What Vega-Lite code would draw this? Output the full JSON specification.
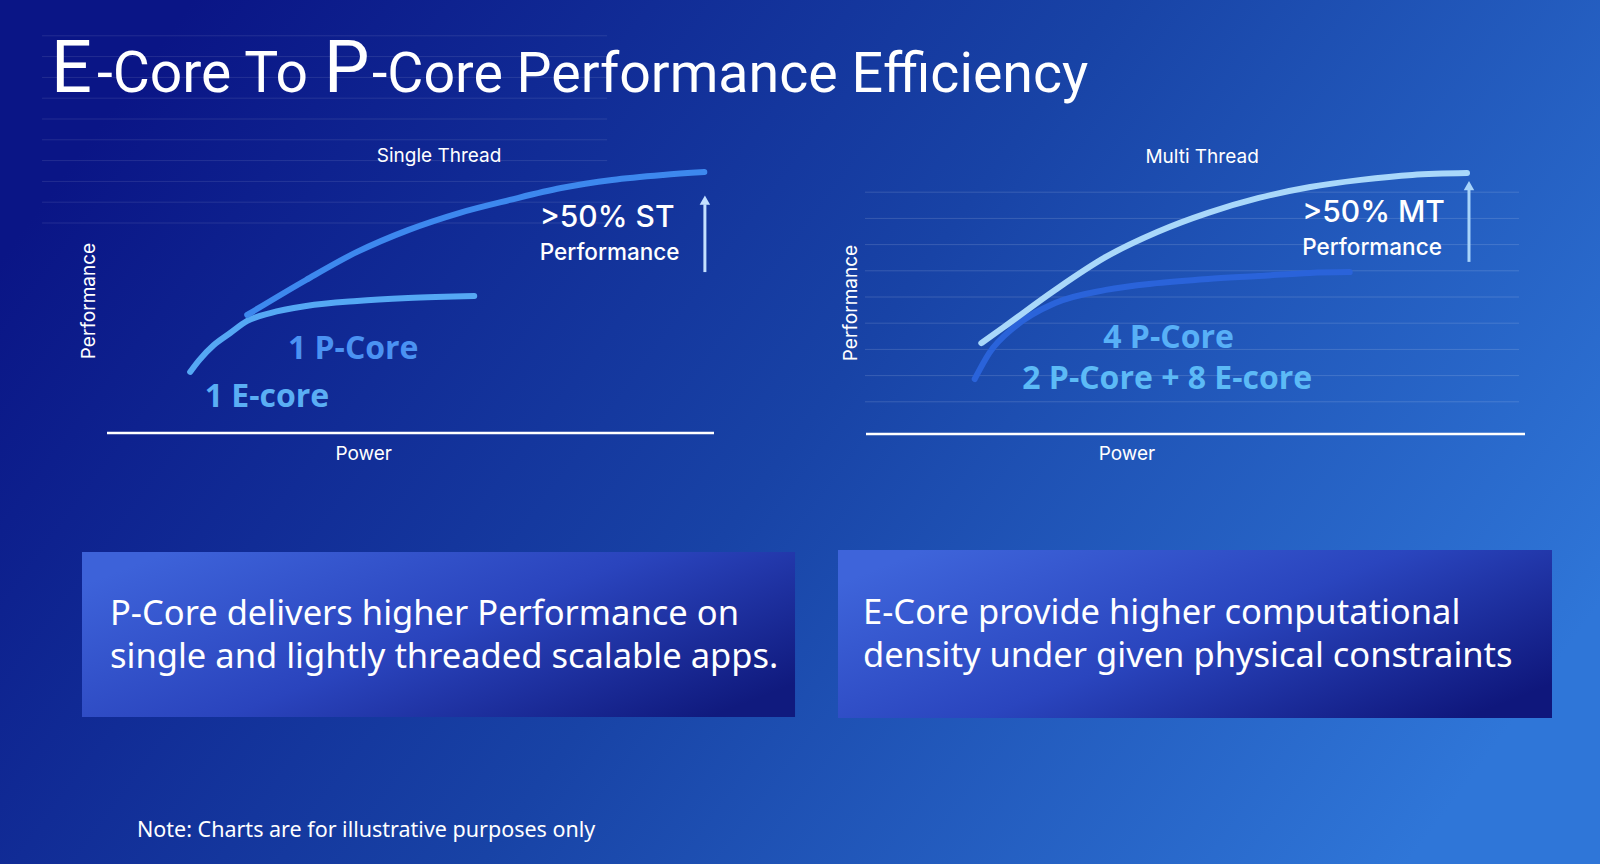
{
  "$schema": "https://vega.github.io/schema/vega-lite/v6.json",
  "width": 1600,
  "height": 864,
  "autosize": {"type": "fit", "contains": "padding"},
  "padding": 0,
  "background": "#163c9e",
  "config": {"view": {"stroke": null}, "font": "Inter"},
  "data": {"values": [{}]},
  "datasets": {
    "st_curves": [
      {"series": "1 E-core", "power": 13.7, "perf": 2.84},
      {"series": "1 E-core", "power": 15.2, "perf": 3.41},
      {"series": "1 E-core", "power": 17.6, "perf": 4.13},
      {"series": "1 E-core", "power": 20.3, "perf": 4.71},
      {"series": "1 E-core", "power": 23.1, "perf": 5.29},
      {"series": "1 E-core", "power": 26.9, "perf": 5.67},
      {"series": "1 E-core", "power": 32.8, "perf": 6.01},
      {"series": "1 E-core", "power": 41.2, "perf": 6.25},
      {"series": "1 E-core", "power": 49.6, "perf": 6.39},
      {"series": "1 E-core", "power": 60.5, "perf": 6.49},
      {"series": "1 P-Core", "power": 23.1, "perf": 5.58},
      {"series": "1 P-Core", "power": 32.8, "perf": 7.26},
      {"series": "1 P-Core", "power": 41.2, "perf": 8.61},
      {"series": "1 P-Core", "power": 49.6, "perf": 9.66},
      {"series": "1 P-Core", "power": 58.0, "perf": 10.48},
      {"series": "1 P-Core", "power": 66.4, "perf": 11.11},
      {"series": "1 P-Core", "power": 74.8, "perf": 11.68},
      {"series": "1 P-Core", "power": 83.2, "perf": 12.07},
      {"series": "1 P-Core", "power": 91.6, "perf": 12.31},
      {"series": "1 P-Core", "power": 98.4, "perf": 12.45}
    ],
    "st_grid": [
      {"level": 10}, {"level": 11}, {"level": 12}, {"level": 13}, {"level": 14},
      {"level": 15}, {"level": 16}, {"level": 17}, {"level": 18}, {"level": 19}
    ],
    "mt_curves": [
      {"series": "2 P-Core + 8 E-core", "power": 16.5, "perf": 1.87},
      {"series": "2 P-Core + 8 E-core", "power": 18.7, "perf": 2.86},
      {"series": "2 P-Core + 8 E-core", "power": 22.5, "perf": 3.85},
      {"series": "2 P-Core + 8 E-core", "power": 28.7, "perf": 4.77},
      {"series": "2 P-Core + 8 E-core", "power": 36.4, "perf": 5.27},
      {"series": "2 P-Core + 8 E-core", "power": 44.2, "perf": 5.53},
      {"series": "2 P-Core + 8 E-core", "power": 51.9, "perf": 5.69},
      {"series": "2 P-Core + 8 E-core", "power": 59.6, "perf": 5.80},
      {"series": "2 P-Core + 8 E-core", "power": 67.4, "perf": 5.92},
      {"series": "2 P-Core + 8 E-core", "power": 73.4, "perf": 5.95},
      {"series": "4 P-Core", "power": 17.5, "perf": 3.24},
      {"series": "4 P-Core", "power": 20.9, "perf": 3.85},
      {"series": "4 P-Core", "power": 28.7, "perf": 5.27},
      {"series": "4 P-Core", "power": 36.4, "perf": 6.53},
      {"series": "4 P-Core", "power": 44.2, "perf": 7.48},
      {"series": "4 P-Core", "power": 51.9, "perf": 8.21},
      {"series": "4 P-Core", "power": 59.6, "perf": 8.78},
      {"series": "4 P-Core", "power": 67.4, "perf": 9.20},
      {"series": "4 P-Core", "power": 75.1, "perf": 9.47},
      {"series": "4 P-Core", "power": 82.9, "perf": 9.66},
      {"series": "4 P-Core", "power": 91.2, "perf": 9.73}
    ],
    "mt_grid": [
      {"level": 1}, {"level": 2}, {"level": 3}, {"level": 4}, {"level": 5},
      {"level": 6}, {"level": 7}, {"level": 8}, {"level": 9}
    ]
  },
  "layer": [
    {
      "layer": [
        {
          "mark": {"type": "rect", "fill": {"gradient": "linear", "x1": 0, "y1": 0.3, "x2": 1, "y2": 0.7, "stops": [{"offset": 0, "color": "#0a1586"}, {"offset": 0.5, "color": "#1843a6"}, {"offset": 1, "color": "#2f76d8"}]}},
          "encoding": {}
        },
        {
          "mark": {"type": "rect", "fill": {"gradient": "linear", "x1": 0, "y1": 0.2, "x2": 1, "y2": 0.8, "stops": [{"offset": 0, "color": "#3d62d9"}, {"offset": 0.5, "color": "#2a44bd"}, {"offset": 1, "color": "#101a7e"}]}},
          "encoding": {
            "x": {"datum": 5.125, "type": "quantitative", "scale": {"domain": [0, 100], "nice": false, "zero": false}, "axis": null},
            "x2": {"datum": 49.69},
            "y": {"datum": 63.89, "type": "quantitative", "scale": {"domain": [0, 100], "reverse": true, "nice": false, "zero": false}, "axis": null},
            "y2": {"datum": 82.99}
          }
        },
        {
          "mark": {"type": "rect", "fill": {"gradient": "linear", "x1": 0, "y1": 0.2, "x2": 1, "y2": 0.8, "stops": [{"offset": 0, "color": "#3e64da"}, {"offset": 0.5, "color": "#2a45be"}, {"offset": 1, "color": "#0f177c"}]}},
          "encoding": {
            "x": {"datum": 52.375, "type": "quantitative", "scale": {"domain": [0, 100], "nice": false, "zero": false}, "axis": null},
            "x2": {"datum": 97.0},
            "y": {"datum": 63.66, "type": "quantitative", "scale": {"domain": [0, 100], "reverse": true, "nice": false, "zero": false}, "axis": null},
            "y2": {"datum": 83.1}
          }
        },
        {
          "mark": {"type": "text", "text": "E", "font": "Roboto", "fontSize": 72, "fontWeight": 400, "align": "left", "baseline": "alphabetic", "fill": "#ffffff"},
          "encoding": {
            "x": {"datum": 3.19, "type": "quantitative", "scale": {"domain": [0, 100], "nice": false, "zero": false}, "axis": null},
            "y": {"datum": 10.7, "type": "quantitative", "scale": {"domain": [0, 100], "reverse": true, "nice": false, "zero": false}, "axis": null}
          }
        },
        {
          "mark": {"type": "text", "text": "-Core To", "font": "Roboto", "fontSize": 57, "fontWeight": 400, "align": "left", "baseline": "alphabetic", "fill": "#ffffff"},
          "encoding": {
            "x": {"datum": 6.06, "type": "quantitative", "scale": {"domain": [0, 100], "nice": false, "zero": false}, "axis": null},
            "y": {"datum": 10.7, "type": "quantitative", "scale": {"domain": [0, 100], "reverse": true, "nice": false, "zero": false}, "axis": null}
          }
        },
        {
          "mark": {"type": "text", "text": "P", "font": "Roboto", "fontSize": 72, "fontWeight": 400, "align": "left", "baseline": "alphabetic", "fill": "#ffffff"},
          "encoding": {
            "x": {"datum": 20.25, "type": "quantitative", "scale": {"domain": [0, 100], "nice": false, "zero": false}, "axis": null},
            "y": {"datum": 10.7, "type": "quantitative", "scale": {"domain": [0, 100], "reverse": true, "nice": false, "zero": false}, "axis": null}
          }
        },
        {
          "mark": {"type": "text", "text": "-Core Performance Efficiency", "font": "Roboto", "fontSize": 55.5, "fontWeight": 400, "align": "left", "baseline": "alphabetic", "fill": "#ffffff"},
          "encoding": {
            "x": {"datum": 23.25, "type": "quantitative", "scale": {"domain": [0, 100], "nice": false, "zero": false}, "axis": null},
            "y": {"datum": 10.7, "type": "quantitative", "scale": {"domain": [0, 100], "reverse": true, "nice": false, "zero": false}, "axis": null}
          }
        },
        {
          "mark": {"type": "text", "text": ["P-Core delivers higher Performance on", "single and lightly threaded scalable apps."], "lineHeight": 43, "font": "Noto Sans", "fontSize": 34.5, "align": "left", "baseline": "middle", "fill": "#ffffff"},
          "encoding": {
            "x": {"datum": 6.875, "type": "quantitative", "scale": {"domain": [0, 100], "nice": false, "zero": false}, "axis": null},
            "y": {"datum": 71.2, "type": "quantitative", "scale": {"domain": [0, 100], "reverse": true, "nice": false, "zero": false}, "axis": null}
          }
        },
        {
          "mark": {"type": "text", "text": ["E-Core provide higher computational", "density under given physical constraints"], "lineHeight": 43, "font": "Noto Sans", "fontSize": 34.5, "align": "left", "baseline": "middle", "fill": "#ffffff"},
          "encoding": {
            "x": {"datum": 53.94, "type": "quantitative", "scale": {"domain": [0, 100], "nice": false, "zero": false}, "axis": null},
            "y": {"datum": 71.05, "type": "quantitative", "scale": {"domain": [0, 100], "reverse": true, "nice": false, "zero": false}, "axis": null}
          }
        },
        {
          "mark": {"type": "text", "text": "Note: Charts are for illustrative purposes only", "font": "Noto Sans", "fontSize": 21.5, "align": "left", "baseline": "middle", "fill": "#ffffff"},
          "encoding": {
            "x": {"datum": 8.56, "type": "quantitative", "scale": {"domain": [0, 100], "nice": false, "zero": false}, "axis": null},
            "y": {"datum": 96.18, "type": "quantitative", "scale": {"domain": [0, 100], "reverse": true, "nice": false, "zero": false}, "axis": null}
          }
        }
      ]
    },
    {
      "layer": [
        {
          "data": {"name": "st_grid"},
          "mark": {"type": "rule", "stroke": "#ffffff", "strokeOpacity": 0.1, "strokeWidth": 1},
          "encoding": {
            "y": {"field": "level", "type": "quantitative", "scale": {"domain": [0, 12.5], "range": [431, 171], "nice": false, "zero": false}, "axis": null},
            "x": {"datum": -10.7, "type": "quantitative", "scale": {"domain": [0, 100], "range": [107, 714], "nice": false, "zero": false}, "axis": null},
            "x2": {"datum": 82.4}
          }
        },
        {
          "mark": {"type": "rule", "stroke": "#ffffff", "strokeWidth": 2.5},
          "encoding": {
            "x": {"datum": 0, "type": "quantitative", "scale": {"domain": [0, 100], "range": [107, 714], "nice": false, "zero": false}, "axis": null},
            "x2": {"datum": 100},
            "y": {"datum": -0.1, "type": "quantitative", "scale": {"domain": [0, 12.5], "range": [431, 171], "nice": false, "zero": false}, "axis": null}
          }
        },
        {
          "mark": {"type": "text", "text": "Power", "font": "Inter", "fontSize": 19, "align": "center", "baseline": "middle", "fill": "#ffffff"},
          "encoding": {
            "x": {"datum": 42.3, "type": "quantitative", "scale": {"domain": [0, 100], "range": [107, 714], "nice": false, "zero": false}, "axis": null},
            "y": {"datum": -1.1, "type": "quantitative", "scale": {"domain": [0, 12.5], "range": [431, 171], "nice": false, "zero": false}, "axis": null}
          }
        },
        {
          "mark": {"type": "text", "text": "Performance", "font": "Inter", "fontSize": 19, "angle": 270, "align": "center", "baseline": "middle", "fill": "#ffffff"},
          "encoding": {
            "x": {"datum": -2.97, "type": "quantitative", "scale": {"domain": [0, 100], "range": [107, 714], "nice": false, "zero": false}, "axis": null},
            "y": {"datum": 6.25, "type": "quantitative", "scale": {"domain": [0, 12.5], "range": [431, 171], "nice": false, "zero": false}, "axis": null}
          }
        },
        {
          "data": {"name": "st_curves"},
          "mark": {"type": "line", "strokeWidth": 6, "strokeCap": "round", "interpolate": "monotone"},
          "encoding": {
            "x": {"field": "power", "type": "quantitative", "title": "Power", "scale": {"domain": [0, 100], "range": [107, 714], "nice": false, "zero": false}, "axis": null},
            "y": {"field": "perf", "type": "quantitative", "title": "Performance", "scale": {"domain": [0, 12.5], "range": [431, 171], "nice": false, "zero": false}, "axis": null},
            "color": {"field": "series", "type": "nominal", "scale": {"domain": ["1 E-core", "1 P-Core"], "range": ["#55a8f4", "#3d88ee"]}, "legend": null}
          }
        },
        {
          "mark": {"type": "rule", "stroke": "#c4e0ff", "strokeWidth": 3},
          "encoding": {
            "x": {"datum": 98.5, "type": "quantitative", "scale": {"domain": [0, 100], "range": [107, 714], "nice": false, "zero": false}, "axis": null},
            "y": {"datum": 7.64, "type": "quantitative", "scale": {"domain": [0, 12.5], "range": [431, 171], "nice": false, "zero": false}, "axis": null},
            "y2": {"datum": 10.9}
          }
        },
        {
          "mark": {"type": "point", "shape": "triangle-up", "filled": true, "size": 110, "fill": "#c4e0ff", "opacity": 1},
          "encoding": {
            "x": {"datum": 98.5, "type": "quantitative", "scale": {"domain": [0, 100], "range": [107, 714], "nice": false, "zero": false}, "axis": null},
            "y": {"datum": 11.1, "type": "quantitative", "scale": {"domain": [0, 12.5], "range": [431, 171], "nice": false, "zero": false}, "axis": null}
          }
        },
        {
          "mark": {"type": "text", "text": "Single Thread", "font": "Inter", "fontSize": 19, "align": "center", "baseline": "middle", "fill": "#ffffff"},
          "encoding": {
            "x": {"datum": 54.7, "type": "quantitative", "scale": {"domain": [0, 100], "range": [107, 714], "nice": false, "zero": false}, "axis": null},
            "y": {"datum": 13.22, "type": "quantitative", "scale": {"domain": [0, 12.5], "range": [431, 171], "nice": false, "zero": false}, "axis": null}
          }
        },
        {
          "mark": {"type": "text", "text": ">50% ST", "font": "Inter", "fontSize": 30, "fontWeight": 500, "align": "left", "baseline": "middle", "fill": "#ffffff"},
          "encoding": {
            "x": {"datum": 71.3, "type": "quantitative", "scale": {"domain": [0, 100], "range": [107, 714], "nice": false, "zero": false}, "axis": null},
            "y": {"datum": 10.24, "type": "quantitative", "scale": {"domain": [0, 12.5], "range": [431, 171], "nice": false, "zero": false}, "axis": null}
          }
        },
        {
          "mark": {"type": "text", "text": "Performance", "font": "Inter", "fontSize": 22.5, "fontWeight": 500, "align": "left", "baseline": "middle", "fill": "#ffffff"},
          "encoding": {
            "x": {"datum": 71.3, "type": "quantitative", "scale": {"domain": [0, 100], "range": [107, 714], "nice": false, "zero": false}, "axis": null},
            "y": {"datum": 8.56, "type": "quantitative", "scale": {"domain": [0, 12.5], "range": [431, 171], "nice": false, "zero": false}, "axis": null}
          }
        },
        {
          "mark": {"type": "text", "text": "1 P-Core", "font": "Open Sans", "fontSize": 32, "fontWeight": "bold", "align": "left", "baseline": "middle", "fill": "#4b92f2"},
          "encoding": {
            "x": {"datum": 29.8, "type": "quantitative", "scale": {"domain": [0, 100], "range": [107, 714], "nice": false, "zero": false}, "axis": null},
            "y": {"datum": 3.94, "type": "quantitative", "scale": {"domain": [0, 12.5], "range": [431, 171], "nice": false, "zero": false}, "axis": null}
          }
        },
        {
          "mark": {"type": "text", "text": "1 E-core", "font": "Open Sans", "fontSize": 32, "fontWeight": "bold", "align": "left", "baseline": "middle", "fill": "#5aaef4"},
          "encoding": {
            "x": {"datum": 16.1, "type": "quantitative", "scale": {"domain": [0, 100], "range": [107, 714], "nice": false, "zero": false}, "axis": null},
            "y": {"datum": 1.63, "type": "quantitative", "scale": {"domain": [0, 12.5], "range": [431, 171], "nice": false, "zero": false}, "axis": null}
          }
        }
      ]
    },
    {
      "layer": [
        {
          "data": {"name": "mt_grid"},
          "mark": {"type": "rule", "stroke": "#ffffff", "strokeOpacity": 0.14, "strokeWidth": 1},
          "encoding": {
            "y": {"field": "level", "type": "quantitative", "scale": {"domain": [0, 10], "range": [428, 166], "nice": false, "zero": false}, "axis": null},
            "x": {"datum": -0.15, "type": "quantitative", "scale": {"domain": [0, 100], "range": [866, 1525], "nice": false, "zero": false}, "axis": null},
            "x2": {"datum": 99.1}
          }
        },
        {
          "mark": {"type": "rule", "stroke": "#ffffff", "strokeWidth": 2.5},
          "encoding": {
            "x": {"datum": 0, "type": "quantitative", "scale": {"domain": [0, 100], "range": [866, 1525], "nice": false, "zero": false}, "axis": null},
            "x2": {"datum": 100},
            "y": {"datum": -0.23, "type": "quantitative", "scale": {"domain": [0, 10], "range": [428, 166], "nice": false, "zero": false}, "axis": null}
          }
        },
        {
          "mark": {"type": "text", "text": "Power", "font": "Inter", "fontSize": 19, "align": "center", "baseline": "middle", "fill": "#ffffff"},
          "encoding": {
            "x": {"datum": 39.6, "type": "quantitative", "scale": {"domain": [0, 100], "range": [866, 1525], "nice": false, "zero": false}, "axis": null},
            "y": {"datum": -0.99, "type": "quantitative", "scale": {"domain": [0, 10], "range": [428, 166], "nice": false, "zero": false}, "axis": null}
          }
        },
        {
          "mark": {"type": "text", "text": "Performance", "font": "Inter", "fontSize": 19, "angle": 270, "align": "center", "baseline": "middle", "fill": "#ffffff"},
          "encoding": {
            "x": {"datum": -2.28, "type": "quantitative", "scale": {"domain": [0, 100], "range": [866, 1525], "nice": false, "zero": false}, "axis": null},
            "y": {"datum": 4.77, "type": "quantitative", "scale": {"domain": [0, 10], "range": [428, 166], "nice": false, "zero": false}, "axis": null}
          }
        },
        {
          "data": {"name": "mt_curves"},
          "mark": {"type": "line", "strokeWidth": 6, "strokeCap": "round", "interpolate": "monotone"},
          "encoding": {
            "x": {"field": "power", "type": "quantitative", "title": "Power", "scale": {"domain": [0, 100], "range": [866, 1525], "nice": false, "zero": false}, "axis": null},
            "y": {"field": "perf", "type": "quantitative", "title": "Performance", "scale": {"domain": [0, 10], "range": [428, 166], "nice": false, "zero": false}, "axis": null},
            "color": {"field": "series", "type": "nominal", "scale": {"domain": ["2 P-Core + 8 E-core", "4 P-Core"], "range": ["#2a63da", "#a9d8fa"]}, "legend": null}
          }
        },
        {
          "mark": {"type": "rule", "stroke": "#a8d4fa", "strokeWidth": 3},
          "encoding": {
            "x": {"datum": 91.5, "type": "quantitative", "scale": {"domain": [0, 100], "range": [866, 1525], "nice": false, "zero": false}, "axis": null},
            "y": {"datum": 6.34, "type": "quantitative", "scale": {"domain": [0, 10], "range": [428, 166], "nice": false, "zero": false}, "axis": null},
            "y2": {"datum": 9.1}
          }
        },
        {
          "mark": {"type": "point", "shape": "triangle-up", "filled": true, "size": 110, "fill": "#a8d4fa", "opacity": 1},
          "encoding": {
            "x": {"datum": 91.5, "type": "quantitative", "scale": {"domain": [0, 100], "range": [866, 1525], "nice": false, "zero": false}, "axis": null},
            "y": {"datum": 9.25, "type": "quantitative", "scale": {"domain": [0, 10], "range": [428, 166], "nice": false, "zero": false}, "axis": null}
          }
        },
        {
          "mark": {"type": "text", "text": "Multi Thread", "font": "Inter", "fontSize": 19, "align": "center", "baseline": "middle", "fill": "#ffffff"},
          "encoding": {
            "x": {"datum": 51.0, "type": "quantitative", "scale": {"domain": [0, 100], "range": [866, 1525], "nice": false, "zero": false}, "axis": null},
            "y": {"datum": 10.34, "type": "quantitative", "scale": {"domain": [0, 10], "range": [428, 166], "nice": false, "zero": false}, "axis": null}
          }
        },
        {
          "mark": {"type": "text", "text": ">50% MT", "font": "Inter", "fontSize": 30, "fontWeight": 500, "align": "left", "baseline": "middle", "fill": "#ffffff"},
          "encoding": {
            "x": {"datum": 66.2, "type": "quantitative", "scale": {"domain": [0, 100], "range": [866, 1525], "nice": false, "zero": false}, "axis": null},
            "y": {"datum": 8.21, "type": "quantitative", "scale": {"domain": [0, 10], "range": [428, 166], "nice": false, "zero": false}, "axis": null}
          }
        },
        {
          "mark": {"type": "text", "text": "Performance", "font": "Inter", "fontSize": 22.5, "fontWeight": 500, "align": "left", "baseline": "middle", "fill": "#ffffff"},
          "encoding": {
            "x": {"datum": 66.2, "type": "quantitative", "scale": {"domain": [0, 100], "range": [866, 1525], "nice": false, "zero": false}, "axis": null},
            "y": {"datum": 6.87, "type": "quantitative", "scale": {"domain": [0, 10], "range": [428, 166], "nice": false, "zero": false}, "axis": null}
          }
        },
        {
          "mark": {"type": "text", "text": "4 P-Core", "font": "Open Sans", "fontSize": 32, "fontWeight": "bold", "align": "left", "baseline": "middle", "fill": "#58b0f7"},
          "encoding": {
            "x": {"datum": 36.0, "type": "quantitative", "scale": {"domain": [0, 100], "range": [866, 1525], "nice": false, "zero": false}, "axis": null},
            "y": {"datum": 3.44, "type": "quantitative", "scale": {"domain": [0, 10], "range": [428, 166], "nice": false, "zero": false}, "axis": null}
          }
        },
        {
          "mark": {"type": "text", "text": "2 P-Core + 8 E-core", "font": "Open Sans", "fontSize": 32, "fontWeight": "bold", "align": "left", "baseline": "middle", "fill": "#5cbaf6"},
          "encoding": {
            "x": {"datum": 23.7, "type": "quantitative", "scale": {"domain": [0, 100], "range": [866, 1525], "nice": false, "zero": false}, "axis": null},
            "y": {"datum": 1.87, "type": "quantitative", "scale": {"domain": [0, 10], "range": [428, 166], "nice": false, "zero": false}, "axis": null}
          }
        }
      ]
    }
  ],
  "resolve": {
    "scale": {"x": "independent", "y": "independent", "color": "independent"},
    "axis": {"x": "independent", "y": "independent"}
  }
}
